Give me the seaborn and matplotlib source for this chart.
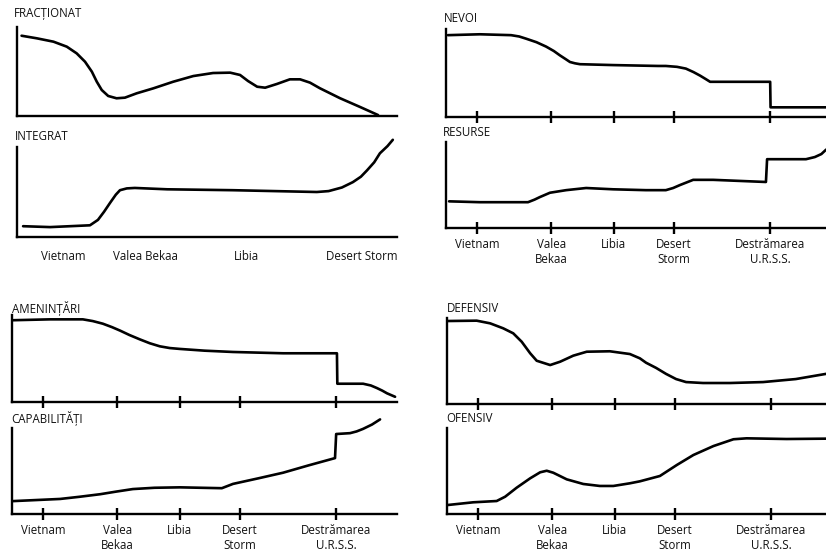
import numpy as np
import pandas as pd
import seaborn as sns
import matplotlib.pyplot as plt


# puncte (x: 0-100 pe axa timpului, y: 0-100 pe inaltimea axei)
fractionat_x = [1.2, 5.2, 9.6, 13.1, 15.7, 17.9, 19.7, 21.0, 22.3, 24.0, 26.2, 28.4, 31.5, 35.9, 41.1, 46.4,
                51.6, 56.1, 58.7, 60.8, 63.2, 65.3, 68.4, 71.8, 74.5, 77.1, 79.7, 85.0, 90.3, 95.0]
fractionat_y = [90.2, 87.3, 83.5, 77.9, 70.4, 61, 49.8, 38.5, 29.2, 22.5, 19.9, 20.6, 25.5, 31.1, 38.5, 44.9,
                48.3, 48.7, 46.1, 39.3, 32.9, 31.8, 36, 41.2, 41.2, 37.5, 31.2, 20, 10.1, 1.1]
integrat_x = [1.6, 8.7, 19.2, 21.3, 22.9, 24.5, 26.0, 27.1, 28.9, 31.0, 39.5, 56.8, 78.9, 82.0, 85.5, 88.4,
              90.5, 92.1, 94.0, 95.5, 97.5, 98.9]
integrat_y = [12, 11, 13, 19, 28, 38, 47, 52, 54, 54.5, 53, 52, 50, 51, 55, 61, 67, 74, 83, 93, 101, 108]

nevoi_x = [0.5, 8.8, 16.9, 19.0, 20.8, 23.5, 26.0, 28.0, 29.6, 31.0, 32.2, 33.5, 34.8, 43.4, 55.1, 57.1,
           60.0, 62.3, 64.3, 66.0, 67.5, 68.6, 84.2, 84.3, 98.7, 102]
nevoi_y = [93, 94, 93, 91.5, 89, 85, 80, 75, 70, 66, 62.5, 61, 60, 59, 58, 58, 57, 55, 51, 47, 43, 40,
           40, 11, 11, 11]
resurse_x = [0.8, 8.8, 21.3, 23.0, 24.4, 27.0, 31.2, 36.4, 43.4, 51.9, 57.1, 59.0, 60.8, 62.5, 64.2, 69.4,
             83.1, 83.4, 93.5, 95.8, 97.5, 98.7, 101]
resurse_y = [31, 30, 30, 33, 36, 41, 44, 46.5, 45, 44, 44, 46.5, 50, 53, 56, 56, 53.5, 80, 80, 82.5, 86,
             91, 96]

amenintari_x = [0.3, 9.9, 18.4, 21.0, 23.6, 26.0, 28.1, 30.5, 33.2, 35.8, 38.4, 41.0, 43.6, 50.0, 57.4, 70.4,
                84.4, 84.5, 91.2, 93.2, 94.8, 96.2, 97.4, 99.5]
amenintari_y = [94, 95, 95, 93, 90, 86, 82, 77, 72, 67.5, 64, 62, 61, 59, 57.5, 56, 56, 21, 21, 19, 16, 13,
                10, 6]
capabilitati_x = [0.3, 12.5, 17.5, 22.9, 27.0, 31.4, 37.0, 43.6, 49.0, 54.5, 57.4, 64.0, 70.4, 77.0, 83.9,
                  84.2, 87.8, 89.5, 91.2, 93.5, 95.6]
capabilitati_y = [15, 17.5, 20, 23, 26, 29, 30.5, 31, 30.5, 30, 35, 41.5, 48, 56.5, 65, 93, 94, 96, 99,
                  104, 110]

defensiv_x = [0.3, 7.7, 11.2, 14.6, 17.2, 19.4, 21.6, 23.3, 26.8, 29.4, 32.8, 36.3, 42.3, 47.5, 50.1, 51.7,
              54.3, 56.9, 59.5, 62.1, 66.5, 73.5, 82.1, 90.6, 98.4, 102]
defensiv_y = [96.5, 96.9, 93.8, 88, 82.2, 72.4, 59, 50.3, 45.3, 49.2, 56.2, 60.8, 61.3, 58.1, 53.1, 48, 42,
              35, 29, 25.5, 24.4, 24.4, 25.5, 29, 35, 37]
ofensiv_x = [0.3, 6.8, 12.9, 15.1, 18.1, 21.6, 24.2, 25.9, 27.6, 31.1, 35.4, 39.7, 43.2, 47.5, 50.1, 55.3,
             59.7, 64.0, 69.2, 74.4, 77.8, 88.2, 98.4, 102]
ofensiv_y = [10.5, 13.6, 15.1, 20.1, 30.6, 41.5, 48.5, 50.3, 48, 40.3, 34.9, 32.6, 32.6, 35.7, 38, 44.2,
             57, 68.6, 79, 86.9, 88, 87.2, 87.6, 87.6]

evenimente_a = ['Vietnam', 'Valea Bekaa', 'Libia', 'Desert Storm']
pozitii_a = [12.1, 33.7, 60.5, 90.8]
evenimente = ['Vietnam', 'Valea\nBekaa', 'Libia', 'Desert\nStorm', 'Destrămarea\nU.R.S.S.']
pozitii = [8.1, 27.3, 43.6, 59.2, 84.2]

W, H = 826, 552
sns.set_style('white')
plt.rcParams['font.family'] = ['Open Sans', 'DejaVu Sans']
fig = plt.figure(figsize=(W / 100, H / 100), dpi=100)


def mk_axes(left, top, bottom, width):
    # pozitia in pixeli -> fractiuni din figura
    ax = fig.add_axes([left / W, 1 - bottom / H, width / W, (bottom - top) / H])
    ax.set_xlim(0, 100)
    ax.set_ylim(0, 100)
    sns.despine(ax=ax)
    for s in ['left', 'bottom']:
        ax.spines[s].set_linewidth(1.7)
        ax.spines[s].set_color('black')
    ax.set_yticks([])
    ax.patch.set_alpha(0)
    return ax


def draw(ax, xs, ys, title, tx, ty):
    df = pd.DataFrame({'x': xs, 'y': ys})
    sns.lineplot(data=df, x='x', y='y', ax=ax, estimator=None, sort=False,
                 color='black', linewidth=1.9, clip_on=False)
    ax.set_xlabel('')
    ax.set_ylabel('')
    fig.text(tx / W, 1 - ty / H, title, fontsize=8.3, ha='left', va='center', color='#111111')


def set_events(ax, pos, labels, ticks=True):
    ax.set_xticks(pos)
    if labels:
        ax.set_xticklabels(labels, fontsize=8.3, linespacing=1.2)
    else:
        ax.set_xticklabels([])
    if ticks:
        ax.tick_params(axis='x', bottom=True, direction='inout', length=8, width=1.7, pad=3,
                       colors='black', labelcolor='#111111')
    else:
        ax.tick_params(axis='x', bottom=True, length=0, pad=9, labelcolor='#111111')


# panoul A
ax = mk_axes(17, 27, 116, 380)
draw(ax, fractionat_x, fractionat_y, 'FRACȚIONAT', 14, 14)
ax.set_xticks([])
ax = mk_axes(17, 147, 237, 380)
draw(ax, integrat_x, integrat_y, 'INTEGRAT', 15, 137)
set_events(ax, pozitii_a, evenimente_a, ticks=False)

# panoul B
ax = mk_axes(446, 29, 117, 385)
draw(ax, nevoi_x, nevoi_y, 'NEVOI', 444, 19)
set_events(ax, pozitii, None)
ax = mk_axes(446, 142, 228, 385)
draw(ax, resurse_x, resurse_y, 'RESURSE', 443, 132)
set_events(ax, pozitii, evenimente)

# panoul C
ax = mk_axes(12, 315, 402, 385)
draw(ax, amenintari_x, amenintari_y, 'AMENINȚĂRI', 12, 308)
set_events(ax, pozitii, None)
ax = mk_axes(12, 428, 514, 385)
draw(ax, capabilitati_x, capabilitati_y, 'CAPABILITĂȚI', 11, 418)
set_events(ax, pozitii, evenimente)

# panoul D
ax = mk_axes(447, 318, 404, 385)
draw(ax, defensiv_x, defensiv_y, 'DEFENSIV', 447, 309)
set_events(ax, pozitii, None)
ax = mk_axes(447, 428, 514, 385)
draw(ax, ofensiv_x, ofensiv_y, 'OFENSIV', 446, 418)
set_events(ax, pozitii, evenimente)

fig.savefig('out.png', dpi=100)
